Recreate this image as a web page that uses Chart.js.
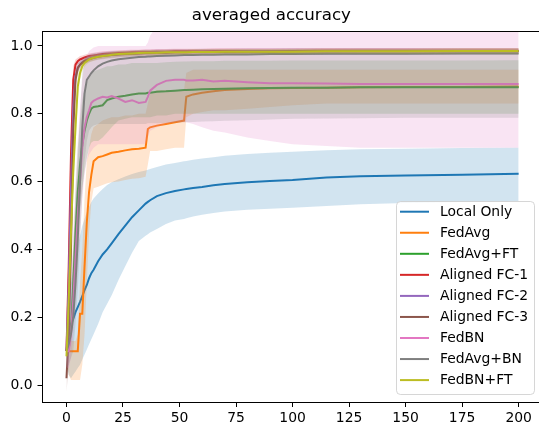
<!DOCTYPE html>
<html><head><meta charset="utf-8">
<script src="https://cdn.jsdelivr.net/npm/chart.js@4.4.1/dist/chart.umd.min.js"></script>
<style>html,body{margin:0;padding:0;overflow:hidden;background:#fff}#wrap{width:550px;height:426px;position:relative}canvas{display:block}</style>
</head><body><div id="wrap"><canvas id="c" width="550" height="426"></canvas></div>
<script>
const TITLE = 'averaged accuracy';
const SERIES_NAMES = ['Local Only','FedAvg','FedAvg+FT','Aligned FC-1','Aligned FC-2','Aligned FC-3','FedBN','FedAvg+BN','FedBN+FT'];
const TICKS_X = [0,25,50,75,100,125,150,175,200];
const TICKS_Y = [0.0,0.2,0.4,0.6,0.8,1.0];
const ROUNDS = [0,1,2,3,4,5,6,7,8,9,10,11,12,14,16,18,20,23,26,29,32,35,36,37,40,44,48,52,53,56,60,65,70,80,90,100,115,130,150,175,200];

const LOCAL_ONLY    = [0.10,0.16,0.18,0.195,0.215,0.23,0.245,0.262,0.28,0.295,0.315,0.33,0.34,0.365,0.385,0.40,0.418,0.445,0.47,0.495,0.515,0.535,0.54,0.545,0.557,0.566,0.572,0.577,0.578,0.581,0.584,0.589,0.593,0.598,0.602,0.605,0.612,0.616,0.618,0.62,0.623];
const LOCAL_ONLY_LO = [0.06,0.03,0.02,0.03,0.04,0.05,0.06,0.075,0.09,0.105,0.12,0.135,0.15,0.18,0.215,0.24,0.265,0.31,0.35,0.39,0.425,0.44,0.445,0.45,0.46,0.475,0.485,0.49,0.492,0.497,0.502,0.507,0.512,0.517,0.52,0.523,0.528,0.533,0.537,0.54,0.542];
const LOCAL_ONLY_HI = [0.14,0.25,0.30,0.34,0.38,0.41,0.44,0.47,0.49,0.51,0.525,0.54,0.55,0.565,0.578,0.59,0.598,0.607,0.615,0.622,0.628,0.633,0.635,0.637,0.643,0.65,0.655,0.66,0.661,0.664,0.668,0.672,0.676,0.681,0.685,0.688,0.692,0.695,0.697,0.699,0.70];

const FEDAVG    = [0.10,0.10,0.10,0.10,0.10,0.10,0.21,0.21,0.35,0.48,0.57,0.62,0.66,0.672,0.675,0.68,0.685,0.688,0.692,0.695,0.697,0.70,0.755,0.76,0.765,0.77,0.775,0.78,0.85,0.857,0.862,0.866,0.87,0.873,0.875,0.876,0.877,0.878,0.879,0.879,0.88];
const FEDAVG_LO = [0.08,0.03,0.015,0.015,0.015,0.015,0.015,0.06,0.15,0.30,0.45,0.54,0.58,0.585,0.59,0.595,0.598,0.60,0.605,0.608,0.61,0.614,0.65,0.69,0.69,0.695,0.70,0.70,0.79,0.80,0.805,0.81,0.81,0.815,0.82,0.825,0.83,0.83,0.83,0.83,0.83];
const FEDAVG_HI = [0.12,0.13,0.13,0.13,0.13,0.15,0.30,0.40,0.55,0.66,0.70,0.74,0.76,0.77,0.78,0.785,0.79,0.79,0.795,0.795,0.80,0.80,0.83,0.86,0.87,0.87,0.87,0.87,0.92,0.93,0.93,0.93,0.93,0.93,0.93,0.93,0.93,0.93,0.93,0.93,0.93];

const FEDAVG_FT    = [0.10,0.13,0.16,0.30,0.45,0.57,0.65,0.71,0.75,0.78,0.80,0.815,0.82,0.822,0.825,0.84,0.845,0.85,0.853,0.857,0.86,0.86,0.862,0.862,0.865,0.866,0.868,0.87,0.87,0.871,0.872,0.873,0.874,0.875,0.876,0.877,0.877,0.878,0.878,0.878,0.878];
const FEDAVG_FT_LO = [0.08,0.10,0.12,0.20,0.33,0.44,0.52,0.58,0.63,0.67,0.70,0.715,0.72,0.72,0.73,0.745,0.76,0.78,0.785,0.79,0.79,0.79,0.79,0.79,0.795,0.795,0.80,0.80,0.80,0.80,0.80,0.80,0.80,0.80,0.80,0.80,0.80,0.80,0.80,0.80,0.80];
const FEDAVG_FT_HI = [0.12,0.16,0.20,0.40,0.57,0.70,0.78,0.84,0.87,0.89,0.905,0.915,0.925,0.93,0.935,0.94,0.94,0.945,0.945,0.95,0.95,0.95,0.95,0.95,0.95,0.952,0.953,0.954,0.954,0.955,0.955,0.955,0.956,0.956,0.956,0.957,0.957,0.957,0.957,0.957,0.958];

const ALIGNED_FC1    = [0.10,0.35,0.68,0.90,0.945,0.955,0.96,0.963,0.966,0.968,0.97,0.971,0.972,0.974,0.976,0.977,0.978,0.979,0.98,0.981,0.981,0.982,0.982,0.982,0.983,0.983,0.984,0.984,0.984,0.984,0.984,0.985,0.985,0.985,0.985,0.985,0.986,0.986,0.986,0.986,0.986];
const ALIGNED_FC1_LO = [0.08,0.25,0.58,0.86,0.93,0.945,0.95,0.954,0.958,0.96,0.962,0.963,0.964,0.966,0.968,0.969,0.97,0.971,0.972,0.973,0.973,0.974,0.974,0.974,0.975,0.975,0.976,0.976,0.976,0.976,0.976,0.977,0.977,0.977,0.977,0.977,0.978,0.978,0.978,0.978,0.978];
const ALIGNED_FC1_HI = [0.12,0.45,0.78,0.94,0.96,0.965,0.97,0.972,0.974,0.976,0.978,0.979,0.98,0.982,0.984,0.985,0.986,0.987,0.988,0.989,0.989,0.99,0.99,0.99,0.991,0.991,0.992,0.992,0.992,0.992,0.992,0.993,0.993,0.993,0.993,0.993,0.994,0.994,0.994,0.994,0.994];

const ALIGNED_FC2    = [0.10,0.30,0.58,0.82,0.91,0.935,0.945,0.952,0.957,0.96,0.963,0.965,0.967,0.97,0.972,0.974,0.975,0.976,0.977,0.978,0.979,0.98,0.98,0.98,0.981,0.981,0.982,0.982,0.982,0.982,0.983,0.983,0.983,0.984,0.984,0.984,0.984,0.985,0.985,0.985,0.985];
const ALIGNED_FC2_LO = [0.08,0.22,0.48,0.76,0.89,0.92,0.935,0.943,0.948,0.951,0.954,0.956,0.958,0.961,0.963,0.965,0.966,0.967,0.968,0.969,0.97,0.971,0.971,0.971,0.972,0.972,0.973,0.973,0.973,0.973,0.974,0.974,0.974,0.975,0.975,0.975,0.975,0.976,0.976,0.976,0.976];
const ALIGNED_FC2_HI = [0.12,0.38,0.68,0.88,0.93,0.95,0.955,0.961,0.966,0.969,0.972,0.974,0.976,0.979,0.981,0.983,0.984,0.985,0.986,0.987,0.988,0.989,0.989,0.989,0.99,0.99,0.991,0.991,0.991,0.991,0.992,0.992,0.992,0.993,0.993,0.993,0.993,0.994,0.994,0.994,0.994];

const ALIGNED_FC3    = [0.02,0.15,0.40,0.75,0.90,0.935,0.945,0.95,0.955,0.958,0.961,0.963,0.965,0.968,0.97,0.972,0.973,0.975,0.976,0.977,0.978,0.979,0.979,0.979,0.98,0.98,0.981,0.981,0.981,0.982,0.982,0.982,0.983,0.983,0.983,0.984,0.984,0.984,0.984,0.984,0.984];
const ALIGNED_FC3_LO = [-0.02,0.05,0.30,0.68,0.87,0.92,0.935,0.941,0.946,0.949,0.952,0.954,0.956,0.959,0.961,0.963,0.964,0.966,0.967,0.968,0.969,0.97,0.97,0.97,0.971,0.971,0.972,0.972,0.972,0.973,0.973,0.973,0.974,0.974,0.974,0.975,0.975,0.975,0.975,0.975,0.975];
const ALIGNED_FC3_HI = [0.11,0.25,0.50,0.82,0.93,0.95,0.955,0.959,0.964,0.967,0.97,0.972,0.974,0.977,0.979,0.981,0.982,0.984,0.985,0.986,0.987,0.988,0.988,0.988,0.989,0.989,0.99,0.99,0.99,0.991,0.991,0.991,0.992,0.992,0.992,0.993,0.993,0.993,0.993,0.993,0.993];

const FEDBN    = [0.10,0.10,0.15,0.25,0.38,0.50,0.60,0.70,0.76,0.79,0.81,0.832,0.838,0.845,0.85,0.848,0.852,0.845,0.835,0.84,0.832,0.835,0.85,0.868,0.885,0.897,0.90,0.90,0.898,0.898,0.90,0.895,0.897,0.893,0.89,0.89,0.889,0.888,0.888,0.888,0.888];
const FEDBN_LO = [0.05,0.05,0.08,0.15,0.25,0.35,0.45,0.55,0.62,0.66,0.68,0.69,0.70,0.71,0.71,0.71,0.71,0.71,0.71,0.71,0.71,0.71,0.73,0.75,0.76,0.77,0.775,0.775,0.775,0.77,0.76,0.75,0.745,0.73,0.72,0.71,0.705,0.70,0.70,0.70,0.70];
const FEDBN_HI = [0.15,0.20,0.30,0.45,0.60,0.72,0.82,0.90,0.95,0.97,0.985,0.99,0.995,1.0,1.0,1.0,1.0,1.0,1.0,1.0,1.0,1.0,1.01,1.03,1.06,1.07,1.07,1.07,1.07,1.075,1.075,1.075,1.075,1.075,1.075,1.075,1.075,1.075,1.075,1.075,1.075];

const FEDAVG_BN    = [0.10,0.12,0.15,0.20,0.30,0.43,0.60,0.76,0.86,0.90,0.91,0.92,0.928,0.94,0.948,0.953,0.957,0.961,0.963,0.965,0.967,0.968,0.969,0.969,0.97,0.971,0.972,0.973,0.973,0.973,0.974,0.974,0.975,0.975,0.976,0.976,0.977,0.977,0.977,0.978,0.978];
const FEDAVG_BN_LO = [0.05,0.06,0.08,0.10,0.18,0.28,0.42,0.56,0.66,0.72,0.75,0.76,0.765,0.77,0.77,0.77,0.77,0.77,0.77,0.77,0.77,0.77,0.772,0.772,0.772,0.773,0.774,0.775,0.775,0.776,0.777,0.778,0.779,0.781,0.783,0.785,0.786,0.787,0.788,0.788,0.788];
const FEDAVG_BN_HI = [0.15,0.20,0.30,0.40,0.55,0.65,0.80,0.92,0.96,0.97,0.975,0.977,0.979,0.98,0.982,0.983,0.984,0.985,0.986,0.986,0.987,0.987,0.987,0.987,0.988,0.988,0.988,0.988,0.988,0.988,0.989,0.989,0.989,0.989,0.989,0.99,0.99,0.99,0.99,0.99,0.99];

const FEDBN_FT    = [0.085,0.25,0.45,0.63,0.76,0.88,0.92,0.94,0.95,0.955,0.96,0.963,0.965,0.968,0.97,0.972,0.974,0.976,0.977,0.978,0.979,0.98,0.98,0.98,0.98,0.981,0.981,0.981,0.981,0.982,0.982,0.982,0.983,0.983,0.983,0.983,0.984,0.984,0.984,0.985,0.985];
const FEDBN_FT_LO = [0.065,0.20,0.38,0.56,0.70,0.84,0.90,0.925,0.938,0.945,0.951,0.954,0.956,0.96,0.962,0.964,0.966,0.968,0.969,0.97,0.971,0.972,0.972,0.972,0.972,0.973,0.973,0.973,0.973,0.974,0.974,0.974,0.975,0.975,0.975,0.975,0.976,0.976,0.976,0.977,0.977];
const FEDBN_FT_HI = [0.105,0.30,0.52,0.70,0.82,0.92,0.94,0.955,0.962,0.965,0.969,0.972,0.974,0.976,0.978,0.98,0.982,0.984,0.985,0.986,0.987,0.988,0.988,0.988,0.988,0.989,0.989,0.989,0.989,0.99,0.99,0.99,0.991,0.991,0.991,0.991,0.992,0.992,0.992,0.993,0.993];

const COLORS = ['#1f77b4','#ff7f0e','#2ca02c','#d62728','#9467bd','#8c564b','#e377c2','#7f7f7f','#bcbd22'];

const SERIES = [
  [LOCAL_ONLY, LOCAL_ONLY_LO, LOCAL_ONLY_HI],
  [FEDAVG, FEDAVG_LO, FEDAVG_HI],
  [FEDAVG_FT, FEDAVG_FT_LO, FEDAVG_FT_HI],
  [ALIGNED_FC1, ALIGNED_FC1_LO, ALIGNED_FC1_HI],
  [ALIGNED_FC2, ALIGNED_FC2_LO, ALIGNED_FC2_HI],
  [ALIGNED_FC3, ALIGNED_FC3_LO, ALIGNED_FC3_HI],
  [FEDBN, FEDBN_LO, FEDBN_HI],
  [FEDAVG_BN, FEDAVG_BN_LO, FEDAVG_BN_HI],
  [FEDBN_FT, FEDBN_FT_LO, FEDBN_FT_HI]
];

function rgba(hex, a) {
  const n = parseInt(hex.slice(1), 16);
  return `rgba(${(n >> 16) & 255},${(n >> 8) & 255},${n & 255},${a})`;
}
const pts = arr => ROUNDS.map((x, i) => ({x: x, y: arr[i]}));

const datasets = [];
SERIES.forEach((s, k) => {
  datasets.push({label: SERIES_NAMES[k], data: pts(s[0]), borderColor: COLORS[k], borderWidth: 2, pointRadius: 0, fill: false, order: 1000 - 3 * k, isMain: true});
  datasets.push({label: '', data: pts(s[1]), borderWidth: 0, borderColor: 'transparent', pointRadius: 0, fill: false, order: 999 - 3 * k});
  datasets.push({label: '', data: pts(s[2]), borderWidth: 0, borderColor: 'transparent', backgroundColor: rgba(COLORS[k], 0.2), pointRadius: 0, fill: '-1', order: 998 - 3 * k});
});

const FONT = 'DejaVu Sans';

const framePlugin = {
  id: 'frame',
  afterDatasetsDraw(chart) {
    const a = chart.chartArea, ctx = chart.ctx;
    ctx.save();
    ctx.strokeStyle = '#000'; ctx.lineWidth = 1;
    ctx.beginPath();
    ctx.moveTo(a.left, a.top + 0.5); ctx.lineTo(a.right, a.top + 0.5);
    ctx.moveTo(a.right, a.top); ctx.lineTo(a.right, a.bottom);
    ctx.stroke();
    ctx.restore();
  }
};

const legendPlugin = {
  id: 'boxLegend',
  afterDraw(chart) {
    const ctx = chart.ctx;
    const items = chart.data.datasets.filter(d => d.isMain);
    ctx.save();
    const x = 396.5, y = 201.5, w = 138, h = 193;
    ctx.beginPath();
    ctx.roundRect(x, y, w, h, 4);
    ctx.fillStyle = 'rgba(255,255,255,0.8)'; ctx.fill();
    ctx.strokeStyle = 'rgba(204,204,204,0.8)'; ctx.lineWidth = 1; ctx.stroke();
    ctx.font = '13.9px "' + FONT + '"';
    ctx.textBaseline = 'middle'; ctx.textAlign = 'left';
    items.forEach((d, i) => {
      const yy = 211.7 + i * 21.05;
      ctx.strokeStyle = d.borderColor; ctx.lineWidth = 2;
      ctx.beginPath(); ctx.moveTo(400, yy); ctx.lineTo(429, yy); ctx.stroke();
      ctx.fillStyle = '#000';
      ctx.fillText(d.label, 440, yy + 0.5);
    });
    ctx.restore();
  }
};

new Chart(document.getElementById('c'), {
  type: 'line',
  data: {datasets: datasets},
  plugins: [framePlugin, legendPlugin],
  options: {
    responsive: false, animation: false, devicePixelRatio: 1,
    layout: {padding: {left: 0, right: 7.4, top: 0, bottom: 0}},
    plugins: {
      legend: {display: false}, tooltip: {enabled: false},
      title: {display: true, text: TITLE, color: '#000', font: {family: FONT, size: 16.67, weight: 'normal'}, padding: {top: 6, bottom: 5}}
    },
    scales: {
      x: {
        type: 'linear', min: -10.6, max: 210.6,
        afterBuildTicks: s => { s.ticks = TICKS_X.map(v => ({value: v})); },
        afterFit: s => { s.height = 24; },
        grid: {display: true, drawOnChartArea: false, drawTicks: true, tickLength: 5, tickColor: '#000', tickWidth: 1},
        border: {display: true, color: '#000', width: 1},
        ticks: {color: '#000', font: {family: FONT, size: 13.9}, padding: 3, maxRotation: 0, autoSkip: false, callback: v => String(v)}
      },
      y: {
        type: 'linear', min: -0.05, max: 1.044,
        afterBuildTicks: s => { s.ticks = TICKS_Y.map(v => ({value: v})); },
        afterFit: s => { s.width = 42.5; },
        grid: {display: true, drawOnChartArea: false, drawTicks: true, tickLength: 5, tickColor: '#000', tickWidth: 1},
        border: {display: true, color: '#000', width: 1},
        ticks: {color: '#000', font: {family: FONT, size: 13.9}, padding: 5, autoSkip: false, callback: v => v.toFixed(1)}
      }
    }
  }
});
</script>
</body></html>
